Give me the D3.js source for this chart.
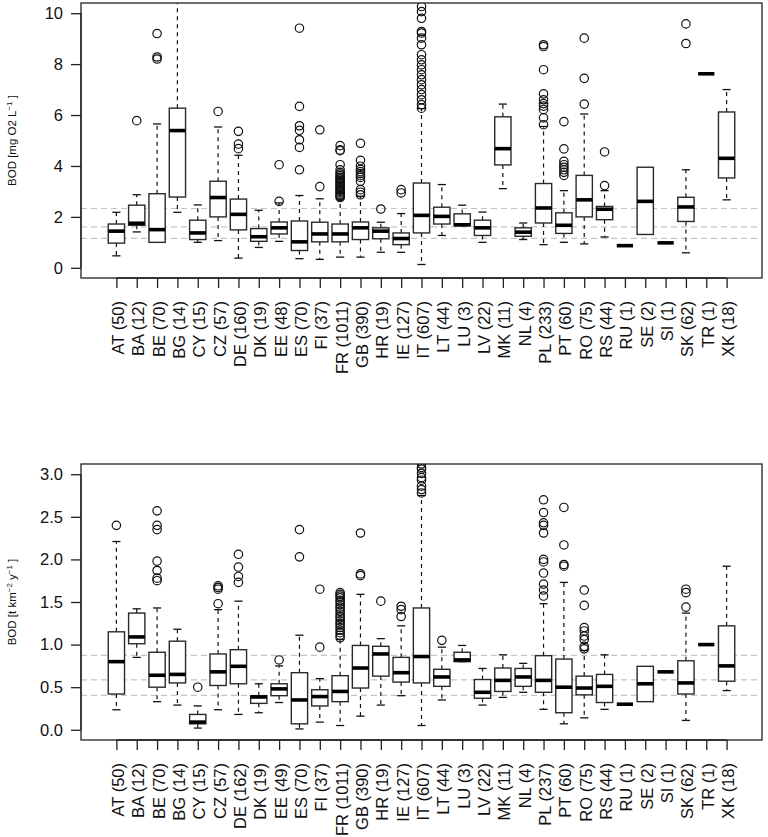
<!DOCTYPE html>
<html>
<head>
<meta charset="utf-8">
<script src="https://cdn.jsdelivr.net/npm/d3@7"></script>
<style>
  html, body { margin: 0; padding: 0; background: #fff; }
  svg { display: block; font-family: "Liberation Sans", Arial, Helvetica, sans-serif; }
</style>
</head>
<body>
<svg id="chart" width="768" height="837"></svg>
<script>
// ---------- DATA ----------
const countries = ["AT","BA","BE","BG","CY","CZ","DE","DK","EE","ES","FI","FR","GB","HR","IE","IT","LT","LU","LV","MK","NL","PL","PT","RO","RS","RU","SE","SI","SK","TR","XK"];
const nTop    = [50,12,70,14,15,57,160,19,48,70,37,1011,390,19,127,607,44,3,22,11,4,233,60,75,44,1,2,1,62,1,18];
const nBottom = [50,12,70,14,15,57,162,19,49,70,37,1011,390,19,127,607,44,3,22,11,4,237,60,75,44,1,2,1,62,1,18];

// Top panel: BOD concentration [mg O2 L-1]
const topLow  = [0.47,1.41,1.00,2.18,1.00,1.07,0.38,0.80,1.04,0.36,0.33,0.42,0.42,0.61,0.61,0.13,1.27,1.66,1.00,3.11,1.11,0.91,1.00,0.94,1.21,0.87,1.31,0.98,0.59,7.62,2.67];
const topQ1   = [0.97,1.67,1.00,2.78,1.11,2.00,1.49,1.04,1.33,0.68,1.02,1.02,1.11,1.14,0.91,1.37,1.72,1.66,1.27,4.04,1.24,1.76,1.35,2.00,1.89,0.87,1.31,0.98,1.82,7.62,3.53];
const topMed  = [1.44,1.75,1.50,5.39,1.37,2.76,2.10,1.22,1.57,1.02,1.33,1.33,1.57,1.44,1.15,2.06,2.02,1.69,1.57,4.68,1.40,2.35,1.67,2.67,2.30,0.87,2.61,0.98,2.39,7.62,4.30];
const topQ3   = [1.72,2.46,2.91,6.27,1.87,3.40,2.70,1.54,1.80,1.84,1.79,1.72,1.80,1.57,1.37,3.33,2.38,2.12,1.87,5.93,1.57,3.31,2.16,3.63,2.41,0.87,3.95,0.98,2.77,7.62,6.12];
const topHigh = [2.18,2.87,5.65,12.0,2.47,5.53,4.42,2.26,2.55,2.84,2.71,2.70,2.80,1.79,2.13,6.25,3.27,2.46,2.19,6.43,1.76,5.55,3.03,6.04,3.03,0.87,3.95,0.98,3.85,7.62,7.00];
const topOut = [
  [], [5.78], [9.20,8.28,8.20], [], [], [6.14], [5.36,4.86,4.68], [], [4.05,2.61],
  [9.41,6.34,5.58,5.40,5.03,4.73,3.85], [5.42,3.19],
  [4.80,4.63,4.60,4.05,3.85,3.75,3.68,3.62,3.55,3.50,3.45,3.40,3.35,3.30,3.25,3.20,3.15,3.10,3.05,3.00,2.95,2.90,2.85,2.80,2.76],
  [4.89,4.22,3.99,3.87,3.78,3.70,3.62,3.55,3.40,3.07,2.97,2.87],
  [2.31], [3.07,2.94],
  [10.26,10.06,9.80,9.28,9.22,9.02,8.76,8.37,8.17,7.97,7.78,7.58,7.39,7.19,7.00,6.80,6.60,6.41,6.27],
  [], [], [], [], [],
  [8.76,8.69,7.78,6.83,6.60,6.45,6.35,6.22,5.89,5.62],
  [5.74,4.67,4.18,4.05,3.95,3.85,3.75,3.63],
  [9.02,7.44,6.43], [4.55,3.23], [], [], [], [9.58,8.81], [], []
];
const topRefLines = [1.16, 1.61, 2.33];
const topTicks = [0, 2, 4, 6, 8, 10];

// Bottom panel: BOD specific load [t km-2 y-1]
const botLow  = [0.235,0.85,0.33,0.29,0.02,0.235,0.18,0.20,0.32,0.01,0.09,0.05,0.16,0.29,0.40,0.05,0.35,0.80,0.29,0.38,0.44,0.24,0.07,0.14,0.24,0.30,0.33,0.68,0.11,1.00,0.46];
const botQ1   = [0.42,1.01,0.50,0.55,0.07,0.52,0.54,0.31,0.40,0.07,0.28,0.33,0.49,0.63,0.56,0.55,0.51,0.80,0.37,0.45,0.51,0.44,0.20,0.41,0.32,0.30,0.33,0.68,0.42,1.00,0.57];
const botMed  = [0.80,1.09,0.64,0.65,0.09,0.68,0.745,0.385,0.48,0.35,0.39,0.45,0.725,0.89,0.67,0.86,0.62,0.82,0.44,0.58,0.62,0.58,0.50,0.49,0.51,0.30,0.54,0.68,0.55,1.00,0.75];
const botQ3   = [1.15,1.37,0.91,1.04,0.18,0.89,0.94,0.40,0.54,0.67,0.47,0.635,0.99,0.98,0.85,1.43,0.71,0.91,0.59,0.725,0.72,0.87,0.83,0.63,0.65,0.30,0.745,0.68,0.81,1.00,1.22];
const botHigh = [2.21,1.42,1.43,1.18,0.28,1.41,1.51,0.54,0.75,1.11,0.60,1.06,1.59,1.07,1.22,2.75,0.97,0.99,0.72,0.88,0.78,1.48,1.73,0.93,0.88,0.30,0.745,0.68,1.37,1.00,1.92];
const botOut = [
  [2.40], [], [2.57,2.40,2.35,1.98,1.87,1.78,1.75], [], [0.50], [1.69,1.67,1.65,1.48],
  [2.06,1.91,1.80,1.73], [], [0.82], [2.35,2.03], [1.65,0.97],
  [1.61,1.59,1.57,1.55,1.52,1.50,1.47,1.44,1.42,1.39,1.36,1.33,1.31,1.28,1.25,1.23,1.20,1.17,1.14,1.11,1.08],
  [2.31,1.83,1.81], [1.51], [1.45,1.41,1.33],
  [3.20,3.12,3.08,3.06,3.01,2.96,2.93,2.86,2.82,2.78],
  [1.05], [], [], [], [],
  [2.70,2.55,2.43,2.40,2.31,2.00,1.97,1.84,1.71,1.64,1.57],
  [2.61,2.17,1.94,1.92],
  [1.64,1.46,1.20,1.16,1.10,1.06,0.98,0.95],
  [], [], [], [], [1.65,1.61,1.44], [], []
];
const botRefLines = [0.404, 0.585, 0.874];
const botTicks = [0, 0.5, 1.0, 1.5, 2.0, 2.5, 3.0];

// ---------- DRAWING ----------
const svg = d3.select("#chart");
const plotLeft = 81, plotRight = 762;

function drawPanel(cfg) {
  const g = svg.append("g");
  const x = d3.scalePoint().domain(countries).range([plotLeft, plotRight]).padding(1.74);
  const y = d3.scaleLinear().domain(cfg.domain).range([cfg.bottom, cfg.top]);
  const boxW = x.step() * 0.8;
  const capW = boxW * 0.5;
  const clipId = "clip" + cfg.id;

  g.append("clipPath").attr("id", clipId)
    .append("rect").attr("x", plotLeft).attr("y", cfg.top)
    .attr("width", plotRight - plotLeft).attr("height", cfg.bottom - cfg.top);

  const pg = g.append("g").attr("clip-path", `url(#${clipId})`);

  // reference lines
  pg.selectAll("line.ref").data(cfg.refs).join("line")
    .attr("class", "ref")
    .attr("x1", plotLeft).attr("x2", plotRight)
    .attr("y1", d => y(d)).attr("y2", d => y(d))
    .attr("stroke", "#c4c4c4").attr("stroke-width", 1.2)
    .attr("stroke-dasharray", "6,4");

  const rows = countries.map((c, i) => ({
    c, n: cfg.n[i], lo: cfg.low[i], q1: cfg.q1[i], med: cfg.med[i], q3: cfg.q3[i], hi: cfg.high[i], out: cfg.out[i]
  }));

  const bx = pg.selectAll("g.bx").data(rows).join("g").attr("class", "bx");

  const multi = bx.filter(d => d.n > 2);
  // whiskers (dashed)
  multi.append("line")
    .attr("x1", d => x(d.c)).attr("x2", d => x(d.c))
    .attr("y1", d => y(d.q3)).attr("y2", d => y(d.hi))
    .attr("stroke", "#111").attr("stroke-width", 1.2).attr("stroke-dasharray", "4,4");
  multi.append("line")
    .attr("x1", d => x(d.c)).attr("x2", d => x(d.c))
    .attr("y1", d => y(d.q1)).attr("y2", d => y(d.lo))
    .attr("stroke", "#111").attr("stroke-width", 1.2).attr("stroke-dasharray", "4,4");
  // staples
  multi.append("line")
    .attr("x1", d => x(d.c) - capW / 2).attr("x2", d => x(d.c) + capW / 2)
    .attr("y1", d => y(d.hi)).attr("y2", d => y(d.hi))
    .attr("stroke", "#111").attr("stroke-width", 1.3);
  multi.append("line")
    .attr("x1", d => x(d.c) - capW / 2).attr("x2", d => x(d.c) + capW / 2)
    .attr("y1", d => y(d.lo)).attr("y2", d => y(d.lo))
    .attr("stroke", "#111").attr("stroke-width", 1.3);

  // boxes
  bx.filter(d => d.n > 1).append("rect")
    .attr("x", d => x(d.c) - boxW / 2).attr("width", boxW)
    .attr("y", d => y(d.q3)).attr("height", d => Math.max(0.5, y(d.q1) - y(d.q3)))
    .attr("fill", "#fff").attr("stroke", "#2a2a2a").attr("stroke-width", 1.4);

  // medians
  bx.append("line")
    .attr("x1", d => x(d.c) - boxW / 2).attr("x2", d => x(d.c) + boxW / 2)
    .attr("y1", d => y(d.med)).attr("y2", d => y(d.med))
    .attr("stroke", "#000").attr("stroke-width", 3.6);

  // outliers
  bx.selectAll("circle").data(d => d.out.map(v => ({ c: d.c, v }))).join("circle")
    .attr("cx", d => x(d.c)).attr("cy", d => y(d.v)).attr("r", 4.2)
    .attr("fill", "none").attr("stroke", "#111").attr("stroke-width", 1.2);

  // frame
  g.append("rect")
    .attr("x", plotLeft).attr("y", cfg.top)
    .attr("width", plotRight - plotLeft).attr("height", cfg.bottom - cfg.top)
    .attr("fill", "none").attr("stroke", "#222").attr("stroke-width", 1.3);

  // y axis
  const ya = g.append("g").attr("transform", `translate(${plotLeft},0)`)
    .call(d3.axisLeft(y).tickValues(cfg.ticks).tickFormat(cfg.fmt).tickSize(10).tickPadding(8));
  ya.select(".domain").attr("d", `M0,${y(cfg.ticks[0])}V${y(cfg.ticks[cfg.ticks.length - 1])}`).attr("stroke", "#222").attr("stroke-width", 1.3);
  ya.selectAll(".tick line").attr("stroke", "#222").attr("stroke-width", 1.3);
  ya.selectAll(".tick text").attr("font-size", 16.5).attr("fill", "#111")
    .attr("font-family", "'Liberation Sans', Arial, sans-serif");

  // x axis
  const xa = g.append("g").attr("transform", `translate(0,${cfg.bottom})`)
    .call(d3.axisBottom(x).tickSize(10).tickFormat((c, i) => `${c} (${cfg.n[i]})`));
  xa.select(".domain").attr("d", `M${x(countries[0])},0H${x(countries[countries.length - 1])}`).attr("stroke", "#222").attr("stroke-width", 1.3);
  xa.selectAll(".tick line").attr("stroke", "#222").attr("stroke-width", 1.3);
  xa.selectAll(".tick text")
    .attr("font-size", 16.5).attr("fill", "#111")
    .attr("font-family", "'Liberation Sans', Arial, sans-serif")
    .attr("text-anchor", "end")
    .attr("dy", null)
    .attr("y", 0).attr("x", 0)
    .attr("dominant-baseline", "central")
    .attr("transform", "translate(1,23) rotate(-90)");

  // y title
  const mid = (cfg.top + cfg.bottom) / 2;
  const t = g.append("text")
    .attr("transform", `translate(16,${mid}) rotate(-90)`)
    .attr("text-anchor", "middle").attr("font-size", 11.5).attr("fill", "#111");
  cfg.title.forEach(part => {
    const ts = t.append("tspan").text(part.t);
    if (part.sup) ts.attr("font-size", 8).attr("dy", -4.5);
    else if (part.after) ts.attr("dy", 4.5);
  });
}

drawPanel({
  id: "top", top: 3, bottom: 278, domain: [-0.4, 10.4],
  n: nTop, low: topLow, q1: topQ1, med: topMed, q3: topQ3, high: topHigh, out: topOut,
  refs: topRefLines, ticks: topTicks, fmt: d3.format("d"),
  title: [{ t: "BOD [mg O2 L" }, { t: "\u22121", sup: true }, { t: " ]", after: true }]
});

drawPanel({
  id: "bot", top: 464, bottom: 740, domain: [-0.12, 3.12],
  n: nBottom, low: botLow, q1: botQ1, med: botMed, q3: botQ3, high: botHigh, out: botOut,
  refs: botRefLines, ticks: botTicks, fmt: d3.format(".1f"),
  title: [{ t: "BOD [t km" }, { t: "\u22122", sup: true }, { t: " y", after: true }, { t: "\u22121", sup: true }, { t: " ]", after: true }]
});
</script>
</body>
</html>
